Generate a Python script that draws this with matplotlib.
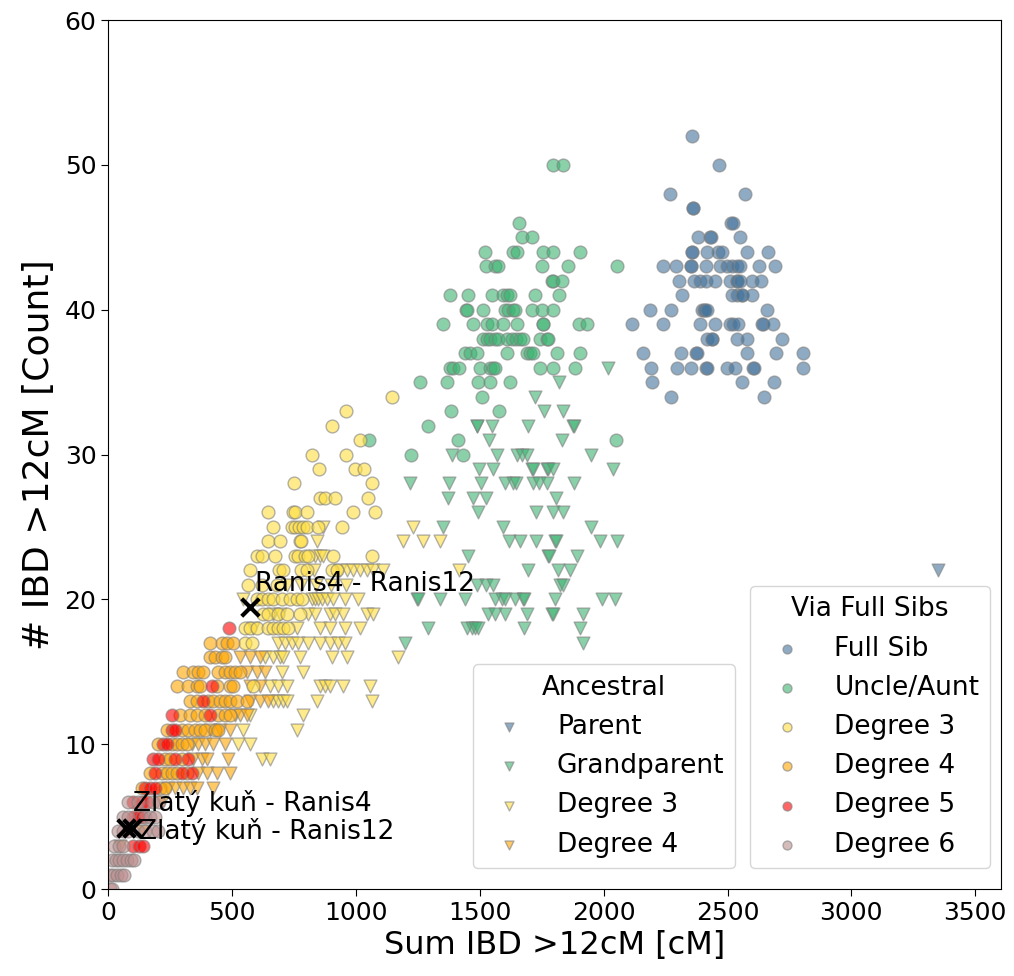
import numpy as np
import matplotlib
matplotlib.use('Agg')
import matplotlib.pyplot as plt

# ---- data: {count: [sum IBD cM, ...]} ----
parent_rows = {22: [3348]}

grandparent_rows = {
    36: [2019], 35: [1821], 34: [1724], 33: [1760, 1837],
    32: [1487, 1490, 1548, 1696, 1875, 1880], 31: [1538, 1830],
    30: [1386, 1568, 1649, 1669, 1689, 1947],
    29: [1498, 1552, 1709, 1716, 1770, 1777, 1797, 2039],
    28: [1218, 1377, 1503, 1602, 1633, 1646, 1716, 1740, 1770, 1882],
    27: [1373, 1471, 1525, 1808], 26: [1494, 1727, 1797, 1837],
    25: [1353, 1592, 1947], 24: [1619, 1662, 1727, 1803, 1806, 1985, 2055],
    23: [1454, 1777, 1780, 1891], 22: [1696, 1817, 1864],
    21: [1487, 1525, 1555, 1824, 1837],
    20: [1245, 1250, 1339, 1440, 1561, 1588, 1602, 1642, 1676, 1680, 1803, 1992, 2046],
    19: [1534, 1561, 1602, 1689, 1790, 1794, 1915],
    18: [1289, 1447, 1467, 1481, 1494, 1678, 1904], 17: [1198, 1918],
}

anc_deg3_rows = {
    25: [868, 1232], 24: [841, 1191, 1272, 1339], 23: [835, 855, 868],
    22: [830, 935, 962, 989, 1016, 1043, 1070, 1110, 1416],
    21: [720, 780, 840, 900, 960],
    20: [545, 821, 835, 848, 861, 882, 909, 956, 1009],
    19: [666, 693, 808, 835, 895, 915, 949, 1043, 1070],
    18: [585, 760, 855, 895, 955, 1016],
    17: [686, 713, 740, 767, 808, 855, 895, 929, 956],
    16: [632, 666, 693, 707, 774, 902, 962, 1171], 15: [700, 787],
    14: [653, 686, 720, 855, 875, 895, 949, 1057],
    13: [666, 686, 707, 720, 841, 1063], 12: [572, 787], 11: [545, 760],
    10: [525, 572], 9: [619, 653],
}

anc_deg4_rows = {
    16: [532, 572, 612], 15: [559, 599, 632], 14: [572, 612],
    13: [572, 612, 646], 12: [511, 532, 558], 11: [410, 451, 491],
    10: [337, 363, 390, 424, 471], 9: [343, 377, 397, 485],
    8: [363, 397, 437, 491], 7: [240, 270, 300, 330, 357, 424],
    6: [215], 4: [135], 3: [47],
}

full_sib_rows = {
    52: [2358], 50: [2465], 48: [2269, 2572], 47: [2359, 2362], 46: [2514, 2521],
    45: [2382, 2429, 2432, 2550], 44: [2355, 2358, 2416, 2463, 2476, 2577, 2662],
    43: [2241, 2292, 2351, 2354, 2413, 2469, 2496, 2517, 2537, 2550, 2628, 2693],
    42: [2304, 2366, 2389, 2413, 2449, 2510, 2537, 2540, 2550, 2597, 2634],
    41: [2316, 2517, 2537, 2557, 2560, 2597],
    40: [2187, 2270, 2395, 2405, 2408, 2416, 2658],
    39: [2113, 2241, 2389, 2449, 2510, 2523, 2543, 2638, 2644, 2685],
    38: [2416, 2436, 2439, 2537, 2577, 2718],
    37: [2160, 2311, 2373, 2376, 2577, 2694, 2806],
    36: [2191, 2297, 2352, 2413, 2416, 2499, 2530, 2604, 2607, 2806],
    35: [2196, 2557, 2687], 34: [2272, 2647],
}

uncle_rows = {
    50: [1794, 1837], 46: [1660], 45: [1669, 1709],
    44: [1521, 1635, 1649, 1756, 1797, 1904],
    43: [1525, 1561, 1575, 1750, 1857, 2052], 42: [1790, 1797, 1830],
    41: [1380, 1454, 1548, 1595, 1608, 1622, 1723, 1821],
    40: [1444, 1450, 1514, 1602, 1615, 1635, 1642, 1709, 1750, 1794],
    39: [1353, 1471, 1528, 1548, 1595, 1649, 1754, 1756, 1902, 1931],
    38: [1514, 1528, 1541, 1561, 1575, 1608, 1629, 1646, 1662, 1676, 1743, 1770, 1777],
    37: [1440, 1460, 1487, 1608, 1689, 1703, 1716, 1813, 1904],
    36: [1380, 1393, 1417, 1501, 1541, 1555, 1561, 1743, 1794, 1884],
    35: [1258, 1366, 1494, 1541, 1622], 34: [1507], 33: [1384, 1579],
    32: [1289], 31: [1053, 1413, 2050], 30: [1221, 1433],
}

sib_deg3_rows = {
    34: [1145], 33: [960], 32: [902], 31: [1016], 30: [824, 960],
    29: [852, 996, 1032], 28: [751, 1063], 27: [855, 875, 915, 1050],
    26: [646, 744, 754, 801, 989, 1077],
    25: [664, 740, 755, 770, 785, 801, 845, 945],
    24: [643, 693, 774, 780],
    23: [599, 619, 673, 754, 767, 794, 808, 909, 1063],
    22: [572, 690, 707, 780, 801, 905, 925], 21: [565, 620, 680],
    20: [600, 620, 646, 666, 700, 734, 760, 781],
    19: [626, 646, 686, 720, 774],
    18: [552, 572, 599, 646, 666, 686, 707, 727], 17: [552, 579], 14: [585],
}

sib_deg4_rows = {
    17: [410, 458, 478, 505], 16: [410, 431, 458, 471],
    15: [303, 343, 363, 384, 444, 471, 491, 511, 532],
    14: [276, 323, 357, 370, 437, 491, 505],
    13: [330, 357, 404, 424, 451, 471, 491, 518, 558],
    12: [289, 330, 357, 390, 444, 471, 491],
    11: [236, 296, 323, 350, 370, 390, 431, 444],
    10: [202, 256, 276, 296, 316], 9: [229, 249, 296],
    8: [170, 215, 236, 256, 276, 316], 7: [135, 208, 230],
}

sib_deg5_rows = {
    18: [489], 14: [417], 13: [384], 12: [256, 410], 11: [256, 269],
    10: [222, 236], 9: [182, 202, 269, 323], 8: [190, 296, 337],
    7: [150, 168, 188], 6: [101, 135, 155], 5: [101, 121, 135],
    3: [100, 125, 140],
}

sib_deg6_rows = {
    6: [80, 118, 182, 205], 5: [60, 80, 150, 170, 190],
    4: [40, 60, 80, 120, 150, 180, 200], 3: [25, 45, 60],
    2: [15, 30, 45, 60, 75, 90, 105], 1: [5, 20, 35, 50, 65], 0: [5, 15],
}

# highlighted pairs
pair_names = ['Ranis4 - Ranis12', 'Zlatý kuň - Ranis4', 'Zlatý kuň - Ranis12']
pair_x = [572, 70, 95]
pair_y = [19.5, 4.2, 4.2]
label_x = [592, 101, 125]
label_y = [20.55, 5.41, 3.43]

col_deg = ['#44739b', '#3cb371', '#ffdf40', '#ffa500', '#ff0000', '#bc8f8f']


def expand(rows):
    xs, ys = [], []
    for y, vals in rows.items():
        xs += vals
        ys += [y] * len(vals)
    return np.array(xs), np.array(ys)


fig = plt.figure(figsize=(10.14, 9.76), dpi=100)
ax = fig.add_axes([0.1068, 0.0891, 0.8801, 0.8904])

S = 85
kw = dict(s=S, alpha=0.6, edgecolors='grey', linewidths=1.0)

anc = []
for rows, c, lab in [(parent_rows, col_deg[0], 'Parent'),
                     (grandparent_rows, col_deg[1], 'Grandparent'),
                     (anc_deg3_rows, col_deg[2], 'Degree 3'),
                     (anc_deg4_rows, col_deg[3], 'Degree 4')]:
    x, y = expand(rows)
    anc.append(ax.scatter(x, y, marker='v', color=c, label=lab, **kw))

sib = []
for rows, c, lab in [(full_sib_rows, col_deg[0], 'Full Sib'),
                     (uncle_rows, col_deg[1], 'Uncle/Aunt'),
                     (sib_deg3_rows, col_deg[2], 'Degree 3'),
                     (sib_deg4_rows, col_deg[3], 'Degree 4'),
                     (sib_deg5_rows, col_deg[4], 'Degree 5'),
                     (sib_deg6_rows, col_deg[5], 'Degree 6')]:
    x, y = expand(rows)
    sib.append(ax.scatter(x, y, marker='o', color=c, label=lab, **kw))

ax.scatter(pair_x, pair_y, marker='x', color='black', s=160, linewidths=3, zorder=5)
for name, tx, ty in zip(pair_names, label_x, label_y):
    ax.text(tx, ty, name, fontsize=19, ha='left', va='baseline', zorder=6)

ax.set_xlim(0, 3603)
ax.set_ylim(0, 60)
ax.set_xticks(np.arange(0, 3501, 500))
ax.set_yticks(np.arange(0, 61, 10))
ax.tick_params(labelsize=18, length=5)
ax.set_xlabel('Sum IBD >12cM [cM]', fontsize=23)
ax.set_ylabel('# IBD >12cM [Count]', fontsize=26, labelpad=6)

leg1 = ax.legend(handles=sib, title='Via Full Sibs', fontsize=19, title_fontsize=19,
                 loc='lower right', bbox_to_anchor=(0.988, 0.024), borderaxespad=0,
                 labelspacing=0.5, markerscale=0.7)
ax.add_artist(leg1)
ax.legend(handles=anc, title='Ancestral', fontsize=19, title_fontsize=19,
          loc='lower right', bbox_to_anchor=(0.7023, 0.024), borderaxespad=0,
          labelspacing=0.5, markerscale=0.7)

plt.savefig('out.png', dpi=100, facecolor='white')
plt.close()
